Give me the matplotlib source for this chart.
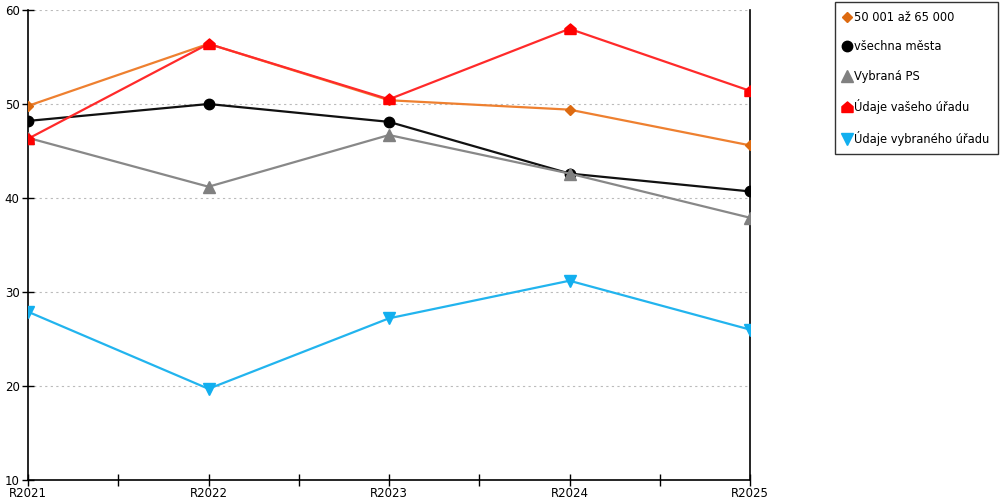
import matplotlib
matplotlib.use("Agg")
import matplotlib.pyplot as plt
from matplotlib.path import Path

categories = ["R2021", "R2022", "R2023", "R2024", "R2025"]
s_orange = [49.8, 56.4, 50.4, 49.4, 45.6]
s_black = [48.2, 50.0, 48.1, 42.6, 40.7]
s_gray = [46.4, 41.2, 46.7, 42.6, 37.9]
s_red = [46.3, 56.4, 50.5, 58.0, 51.4]
s_blue = [27.9, 19.7, 27.2, 31.2, 26.0]
labels = ["50 001 až 65 000", "všechna města", "Vybraná PS",
          "Údaje vašeho úřadu", "Údaje vybraného úřadu"]
yticks = [10, 20, 30, 40, 50, 60]

plt.rcParams['font.family'] = ['DejaVu Sans']

house = Path([(-1, -0.9), (1, -0.9), (1, 0.15), (0, 1), (-1, 0.15), (-1, -0.9)],
             [Path.MOVETO, Path.LINETO, Path.LINETO, Path.LINETO, Path.LINETO, Path.CLOSEPOLY])

fig = plt.figure(figsize=(10, 5), dpi=100)
ax = fig.add_axes([0.028, 0.04, 0.722, 0.94])
x = list(range(len(categories)))

ax.plot(x, s_orange, color="#EE8030", lw=1.6, marker="D", ms=5.5, mfc="#DD6A10", mec="#DD6A10", label=labels[0], zorder=3)
ax.plot(x, s_black, color="#111111", lw=1.6, marker="o", ms=7.5, mfc="black", mec="black", label=labels[1], zorder=3)
ax.plot(x, s_gray, color="#888888", lw=1.6, marker="^", ms=8, mfc="#808080", mec="#808080", label=labels[2], zorder=3)
ax.plot(x, s_red, color="#FF2A2A", lw=1.6, marker=house, ms=8, mfc="#FF0000", mec="#FF0000", label=labels[3], zorder=3)
ax.plot(x, s_blue, color="#22B4EE", lw=1.6, marker="v", ms=8, mfc="#12AFEF", mec="#12AFEF", label=labels[4], zorder=3)

ax.set_xlim(0, 4)
ax.set_ylim(10, 60)
ax.set_yticks(yticks)
ax.set_xticks(x)
ax.set_xticklabels(categories)
ax.set_xticks([0.5, 1.5, 2.5, 3.5], minor=True)
ax.tick_params(axis="both", direction="inout", length=8, width=1, labelsize=8.5, pad=1)
ax.tick_params(axis="x", which="minor", direction="inout", length=8, width=1)
ax.tick_params(axis="y", pad=2)
ax.grid(axis="y", color="#BBBBBB", linestyle=(0, (2, 3)), lw=0.8)
ax.spines["top"].set_visible(False)
for s in ["left", "right", "bottom"]:
    ax.spines[s].set_color("black")
    ax.spines[s].set_linewidth(1.2)

leg = fig.legend(loc="upper left", bbox_to_anchor=(0.835, 0.996), fontsize=8.3,
                 frameon=True, fancybox=False, edgecolor="black", labelspacing=1.43,
                 handlelength=0.5, handletextpad=0.4, borderpad=0.75, borderaxespad=0)
leg.get_frame().set_linewidth(1.0)
for h in leg.legend_handles:
    h.set_linestyle("None")

fig.savefig("out.png", dpi=100)
